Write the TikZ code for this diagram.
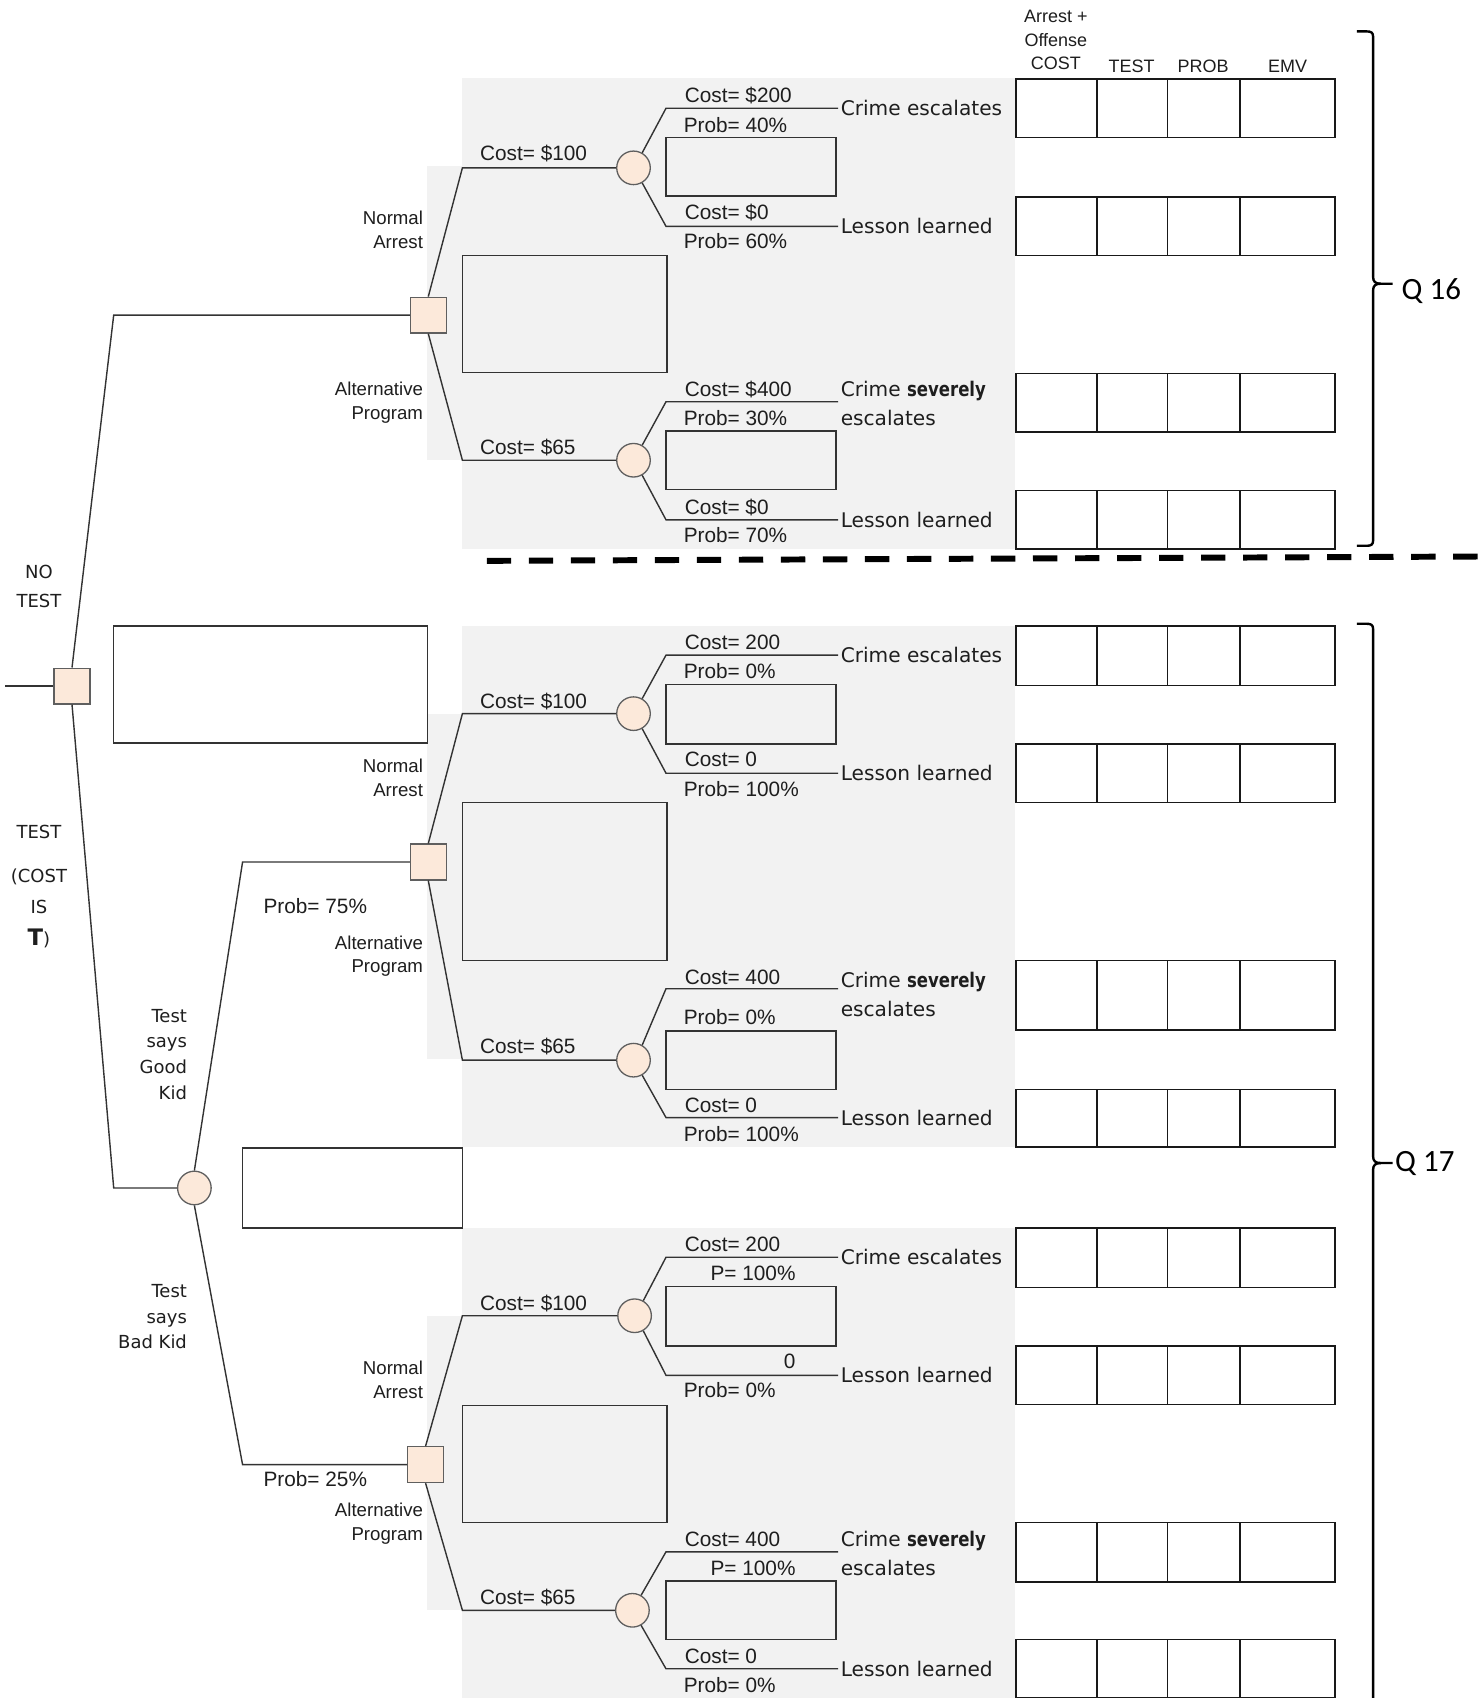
\documentclass[tikz,border=0pt]{standalone}
\usepackage{fontspec}
\setmainfont{Liberation Sans}
\newfontfamily\dvs{DejaVu Sans}
\newfontfamily\carl{Carlito}
\definecolor{peach}{RGB}{252,233,218}
\definecolor{bggray}{RGB}{242,242,242}
\definecolor{nodeedge}{RGB}{95,95,95}
\definecolor{txt}{RGB}{30,30,30}
\tikzset{
 dnode/.style={rectangle, draw=nodeedge, fill=peach, line width=0.6pt, minimum size=16.5pt, inner sep=0pt},
 cnode/.style={circle, draw=nodeedge, fill=peach, line width=0.6pt, minimum size=15.5pt, inner sep=0pt},
 branch/.style={draw=black!80, line width=0.65pt},
 ebox/.style={draw=black!80, line width=0.65pt, inner sep=0pt, outer sep=0pt},
 cell/.style={draw=black!90, line width=0.75pt, inner sep=0pt, outer sep=0pt, anchor=north west, fill=white},
 tl/.style={font=\fontsize{9.6}{11}\selectfont, text=txt, inner sep=0pt, text height=6.9pt, text depth=0pt},
 tlw/.style={tl, anchor=west},
 tle/.style={tl, anchor=east},
 nl/.style={font=\fontsize{8.6}{11}\selectfont, text=txt, align=right, inner sep=0pt, anchor=east},
 ol/.style={font=\dvs\fontsize{9.3}{13.5}\selectfont, text=txt, inner sep=1pt, anchor=west, align=left},
 sl/.style={font=\dvs\fontsize{8.3}{11.85}\selectfont, text=txt, inner sep=0pt},
 hl/.style={font=\fontsize{8.3}{11}\selectfont, text=txt, inner sep=0pt, align=center},
 ql/.style={font=\carl\fontsize{14.3}{16}\selectfont, inner sep=0pt, anchor=west},
 bracket/.style={draw=black, line width=1.1pt},
 dashline/.style={draw=black, line width=2.75pt, dash pattern=on 11.25pt off 8.15pt},
}
\newcommand{\sev}{\scalebox{0.82}[1]{\bfseries severely}}
\newcommand{\ebx}[5]{\node[ebox,anchor=north west,minimum width={(#4-#2)*0.5pt},minimum height={(#5-#3)*0.5pt}] (#1) at (#2,#3) {};}
\newcommand{\tabrow}[3]{%
 \node[cell,minimum width=37.5pt,minimum height={(#3-#2)*0.5pt}] (#1a) at (938,#2) {};
 \node[cell,minimum width=32.5pt,minimum height={(#3-#2)*0.5pt}] (#1b) at (1013,#2) {};
 \node[cell,minimum width=33.5pt,minimum height={(#3-#2)*0.5pt}] (#1c) at (1078,#2) {};
 \node[cell,minimum width=44pt,minimum height={(#3-#2)*0.5pt}] (#1d) at (1145,#2) {};}
\begin{document}
\begin{tikzpicture}[x=0.5pt,y=-0.5pt]
\fill[white] (0,0) rectangle (1365,1568);
\useasboundingbox (0,0) rectangle (1365,1568);
% shaded areas
\fill[bggray] (427,72) rectangle (937,507);
\fill[bggray] (394,153) rectangle (427,425);
\fill[bggray] (427,578) rectangle (937,1059);
\fill[bggray] (394,659) rectangle (427,978);
\fill[bggray] (427,1134) rectangle (937,1568);
\fill[bggray] (394,1215) rectangle (427,1487);

% header
\node[hl] (h1) at (975,37) {Arrest +\\Offense\\COST};
\node[hl] (h2) at (1045,61) {TEST};
\node[hl] (h3) at (1111,61) {PROB};
\node[hl] (h4) at (1189,61) {EMV};

% tables
\tabrow{ta}{73}{127}
\tabrow{tb}{182}{236}
\tabrow{tc}{345}{399}
\tabrow{td}{453}{507}
\tabrow{te}{578}{633}
\tabrow{tf}{687}{741}
\tabrow{tg}{887}{951}
\tabrow{th}{1006}{1059}
\tabrow{ti}{1134}{1189}
\tabrow{tj}{1243}{1297}
\tabrow{tk}{1406}{1461}
\tabrow{tm}{1514}{1568}

% root
\node[dnode] (D0) at (66.5,633.5) {};
\coordinate (in) at (5,633.5);
\draw[branch] (in) -- (D0.west);
\coordinate (k1) at (105,291);
\coordinate (k2) at (105,1097);
\node[dnode] (D1) at (395.5,291) {};
\node[cnode] (CT) at (179.5,1097) {};
\draw[branch] (D0.north) -- (k1) -- (D1.west);
\draw[branch] (D0.south) -- (k2) -- (CT.west);
\node[sl, align=center, font=\dvs\fontsize{8.3}{13.5}\selectfont] (nt) at (36,541.5) {NO\\TEST};
\node[sl] (tt1) at (36,768) {TEST};
\node[sl] (tt2) at (36,810) {(COST};
\node[sl] (tt3) at (36,837.5) {IS};
\node[sl] (tt4) at (36,867) {{\bfseries\fontsize{10.5}{12}\selectfont T})};
\ebx{bx0}{105}{578}{395}{686}
\ebx{bxT}{224}{1060}{427}{1134}

% ===== section 1: no test =====
\coordinate (a1) at (427,155);
\coordinate (a2) at (427,425);
\node[cnode] (C1) at (585,155) {};
\node[cnode] (C2) at (585,425) {};
\draw[branch] (D1.north) -- (a1) -- (C1.west);
\draw[branch] (D1.south) -- (a2) -- (C2.west);
\node[tlw] (l1) at (443,141) {Cost= \$100};
\node[tlw] (l2) at (443,413) {Cost= \$65};
\node[nl] (na1) at (391,212) {Normal\\Arrest};
\node[nl] (ap1) at (391,372) {Alternative\\Program};
\ebx{bb1}{427}{236}{616}{344}
% C1
\node[ol] (o1) at (774,100) {Crime escalates};
\node[ol] (o2) at (774,209) {Lesson learned};
\coordinate (c1u) at (615,100);
\coordinate (c1d) at (615,209);
\draw[branch] (C1.60) -- (c1u) -- (o1.west);
\draw[branch] (C1.-60) -- (c1d) -- (o2.west);
\node[tlw] (l3) at (632,88) {Cost= \$200};
\node[tlw] (l4) at (631,115) {Prob= 40\%};
\ebx{sb1}{615}{127}{772}{181}
\node[tlw] (l5) at (632,196) {Cost= \$0};
\node[tlw] (l6) at (631,223) {Prob= 60\%};
% C2
\node[ol] (o3) at (774,372.5) {Crime \sev\\escalates};
\node[ol] (o4) at (774,480) {Lesson learned};
\coordinate (c2u) at (615,371);
\coordinate (c2d) at (615,480);
\draw[branch] (C2.60) -- (c2u) -- (c2u -| o3.west);
\draw[branch] (C2.-60) -- (c2d) -- (o4.west);
\node[tlw] (l7) at (632,359) {Cost= \$400};
\node[tlw] (l8) at (631,386) {Prob= 30\%};
\ebx{sb2}{615}{398}{772}{452}
\node[tlw] (l9) at (632,468) {Cost= \$0};
\node[tlw] (l10) at (631,494) {Prob= 70\%};

% Q16 bracket
\draw[bracket] (1253,29) -- (1262,29) .. controls (1266,29) and (1268,30) .. (1268,34) -- (1268,256) .. controls (1268,260) and (1270,262) .. (1275,262) -- (1286,262);
\draw[bracket] (1275,262) .. controls (1270,262) and (1268,264) .. (1268,268) -- (1268,499) .. controls (1268,503) and (1266,504) .. (1262,504) -- (1253,504);
\node[ql] (q16) at (1294,269) {Q 16};

% dashed separator
\coordinate (dl) at (449.5,517.9);
\coordinate (dr) at (1365,513.9);
\draw[dashline] (dl) -- (dr);

% ===== test branch =====
\coordinate (k3) at (224,796);
\coordinate (k4) at (224,1352.5);
\node[dnode] (D2) at (395.5,796) {};
\node[dnode] (D3) at (393,1352.5) {};
\draw[branch] (CT.north) -- (k3) -- (D2.west);
\draw[branch] (CT.south) -- (k4) -- (D3.west);
\node[tlw] (p75) at (243,837) {Prob= 75\%};
\node[tlw] (p25) at (243,1366) {Prob= 25\%};
\node[sl, align=right, anchor=east] (tgk) at (173,973.5) {Test\\says\\Good\\Kid};
\node[sl, align=right, anchor=east] (tbk) at (173,1216) {Test\\says\\Bad Kid};

% ===== section 2: good kid =====
\coordinate (a3) at (427,659);
\coordinate (a4) at (427,979);
\node[cnode] (C3) at (585,659) {};
\node[cnode] (C4) at (585,979) {};
\draw[branch] (D2.north) -- (a3) -- (C3.west);
\draw[branch] (D2.south) -- (a4) -- (C4.west);
\node[tlw] (m1) at (443,647) {Cost= \$100};
\node[tlw] (m2) at (443,966) {Cost= \$65};
\node[nl] (na2) at (391,718) {Normal\\Arrest};
\node[nl] (ap2) at (391,883) {Alternative\\Program};
\ebx{bb2}{427}{741}{616}{887}
% C3
\node[ol] (o5) at (774,605) {Crime escalates};
\node[ol] (o6) at (774,714) {Lesson learned};
\coordinate (c3u) at (615,605);
\coordinate (c3d) at (615,714);
\draw[branch] (C3.60) -- (c3u) -- (o5.west);
\draw[branch] (C3.-60) -- (c3d) -- (o6.west);
\node[tlw] (m3) at (632,593) {Cost= 200};
\node[tlw] (m4) at (631,620) {Prob= 0\%};
\ebx{sb3}{615}{632}{772}{687}
\node[tlw] (m5) at (632,701) {Cost= 0};
\node[tlw] (m6) at (631,729) {Prob= 100\%};
% C4
\node[ol] (o7) at (774,918.5) {Crime \sev\\escalates};
\node[ol] (o8) at (774,1032) {Lesson learned};
\coordinate (c4u) at (615,913);
\coordinate (c4d) at (615,1032);
\draw[branch] (C4.60) -- (c4u) -- (c4u -| o7.west);
\draw[branch] (C4.-60) -- (c4d) -- (o8.west);
\node[tlw] (m7) at (632,902) {Cost= 400};
\node[tlw] (m8) at (631,939) {Prob= 0\%};
\ebx{sb4}{615}{952}{772}{1006}
\node[tlw] (m9) at (632,1020) {Cost= 0};
\node[tlw] (m10) at (631,1047) {Prob= 100\%};

% ===== section 3: bad kid =====
\coordinate (a5) at (427,1215);
\coordinate (a6) at (427,1487);
\node[cnode] (C5) at (586,1215) {};
\node[cnode] (C6) at (584,1487) {};
\draw[branch] (D3.north) -- (a5) -- (C5.west);
\draw[branch] (D3.south) -- (a6) -- (C6.west);
\node[tlw] (n1) at (443,1203) {Cost= \$100};
\node[tlw] (n2) at (443,1475) {Cost= \$65};
\node[nl] (na3) at (391,1274) {Normal\\Arrest};
\node[nl] (ap3) at (391,1407) {Alternative\\Program};
\ebx{bb3}{427}{1298}{616}{1406}
% C5
\node[ol] (o9) at (774,1161) {Crime escalates};
\node[ol] (o10) at (774,1270) {Lesson learned};
\coordinate (c5u) at (615,1161);
\coordinate (c5d) at (615,1270);
\draw[branch] (C5.60) -- (c5u) -- (o9.west);
\draw[branch] (C5.-60) -- (c5d) -- (o10.west);
\node[tlw] (n3) at (632,1149) {Cost= 200};
\node[tle] (n4) at (735,1176) {P= 100\%};
\ebx{sb5}{615}{1188}{772}{1243}
\node[tle] (n5) at (735,1257) {0};
\node[tlw] (n6) at (631,1284) {Prob= 0\%};
% C6
\node[ol] (o11) at (774,1434.5) {Crime \sev\\escalates};
\node[ol] (o12) at (774,1541) {Lesson learned};
\coordinate (c6u) at (615,1433);
\coordinate (c6d) at (615,1541);
\draw[branch] (C6.60) -- (c6u) -- (c6u -| o11.west);
\draw[branch] (C6.-60) -- (c6d) -- (o12.west);
\node[tlw] (n7) at (632,1421) {Cost= 400};
\node[tle] (n8) at (735,1448) {P= 100\%};
\ebx{sb6}{615}{1460}{772}{1514}
\node[tlw] (n9) at (632,1529) {Cost= 0};
\node[tlw] (n10) at (631,1556) {Prob= 0\%};

% Q17 bracket
\draw[bracket] (1253,576) -- (1262,576) .. controls (1266,576) and (1268,577) .. (1268,581) -- (1268,1068) .. controls (1268,1072) and (1270,1074) .. (1275,1074) -- (1286,1074);
\draw[bracket] (1275,1074) .. controls (1270,1074) and (1268,1076) .. (1268,1080) -- (1268,1570);
\node[ql] (q17) at (1288,1074) {Q 17};
\end{tikzpicture}
\end{document}
